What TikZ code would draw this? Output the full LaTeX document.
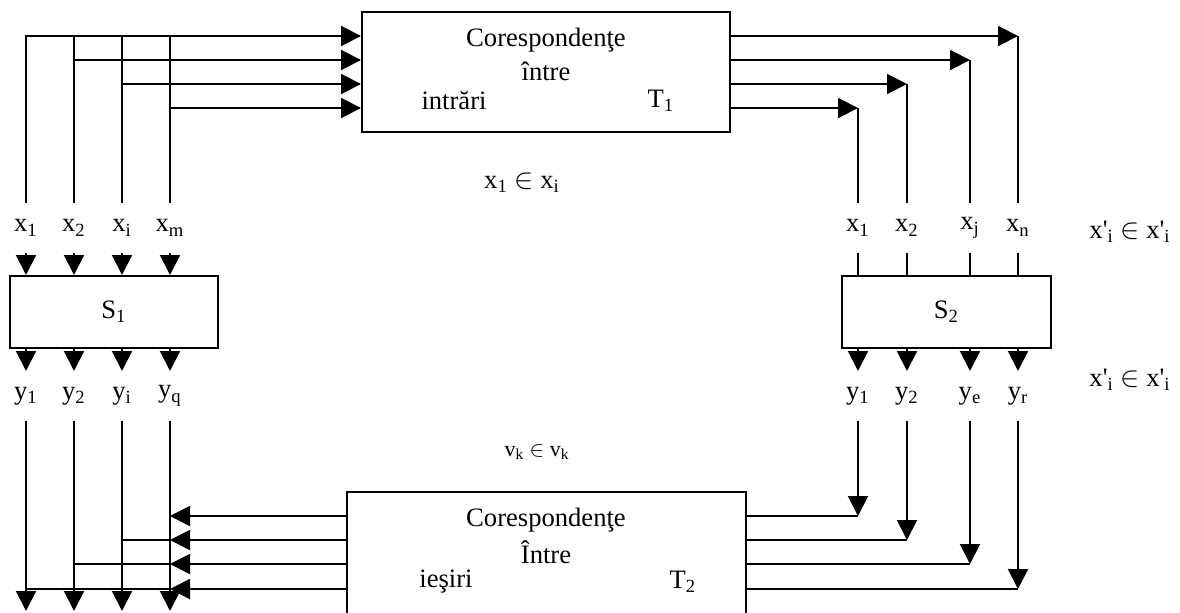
\documentclass[tikz,border=0pt]{standalone}
\usepackage{fontspec}
\setmainfont{Liberation Serif}
\usetikzlibrary{arrows.meta}
\tikzset{
    box/.style ={
        rectangle,
        minimum width =104pt,
        minimum height =36pt,
        inner sep=0pt,
        draw=black
    },
    lbl/.style ={inner sep=0pt, minimum height=24pt},
    arr/.style ={-{Triangle[length=10pt,width=10pt]}}
}
\begin{document}
\begin{tikzpicture}[x=0.5pt,y=-0.5pt,line width=1pt,font=\fontsize{13.3}{16}\selectfont]
        \useasboundingbox (0,0) rectangle (1180,612);
        \clip (0,0) rectangle (1180,612);
        % boxes
        \node[box,minimum width=184pt,minimum height=60pt] (T1) at (546,72) {};
        \node[box,minimum width=199.5pt,minimum height=70pt] (T2) at (546.5,562) {};
        \node[box] (S1) at (114,312) {S\textsubscript{1}};
        \node[box,minimum width=104.5pt] (S2) at (946.5,312) {S\textsubscript{2}};
        \node (T1A) at (546,40) {Corespondenţe};
        \node (T1B) at (546,71) {între};
        \node (T1C) at (454,101) {intrări};
        \node (T1D) at (661,101) {T\textsubscript{1}};
        \node (T2A) at (546,520) {Corespondenţe};
        \node (T2B) at (546,552) {Între};
        \node (T2C) at (446,582) {ieşiri};
        \node (T2D) at (683,582) {T\textsubscript{2}};
        % rows of the connectors
        \coordinate (R1) at (0,36);
        \coordinate (R2) at (0,60);
        \coordinate (R3) at (0,84);
        \coordinate (R4) at (0,108);
        \coordinate (Q1) at (0,516);
        \coordinate (Q2) at (0,540);
        \coordinate (Q3) at (0,564);
        \coordinate (Q4) at (0,589);
        \coordinate (BOT) at (0,611);
        % labels
        \node[lbl] (XA1) at (26,228) {x\textsubscript{1}};
        \node[lbl] (XA2) at (74,228) {x\textsubscript{2}};
        \node[lbl] (XA3) at (122,228) {x\textsubscript{i}};
        \node[lbl] (XA4) at (170,228) {x\textsubscript{m}};
        \node[lbl] (YA1) at (26,396) {y\textsubscript{1}};
        \node[lbl] (YA2) at (74,396) {y\textsubscript{2}};
        \node[lbl] (YA3) at (122,396) {y\textsubscript{i}};
        \node[lbl] (YA4) at (170,396) {y\textsubscript{q}};
        \node[lbl] (XB1) at (858,228) {x\textsubscript{1}};
        \node[lbl] (XB2) at (907,228) {x\textsubscript{2}};
        \node[lbl] (XB3) at (970,228) {x\textsubscript{j}};
        \node[lbl] (XB4) at (1018,228) {x\textsubscript{n}};
        \node[lbl] (YB1) at (858,396) {y\textsubscript{1}};
        \node[lbl] (YB2) at (907,396) {y\textsubscript{2}};
        \node[lbl] (YB3) at (970,396) {y\textsubscript{e}};
        \node[lbl] (YB4) at (1018,396) {y\textsubscript{r}};
        \node (EQ1) at (522,183) {x\textsubscript{1} $\in$ x\textsubscript{i}};
        \node (EQ2) at (1130,232) {x\textquotesingle\textsubscript{i} $\in$ x\textquotesingle\textsubscript{i}};
        \node (EQ3) at (1130,380) {x\textquotesingle\textsubscript{i} $\in$ x\textquotesingle\textsubscript{i}};
        \node[font=\fontsize{11}{13}\selectfont] (EQ4) at (537,452) {v\textsubscript{k} $\in$ v\textsubscript{k}};
        % into T1
        \draw[arr] (XA1.north) |- (T1.west |- R1);
        \draw (XA2.north) -- (XA2 |- R1);
        \draw (XA3.north) -- (XA3 |- R1);
        \draw (XA4.north) -- (XA4 |- R1);
        \draw[arr] (XA2 |- R2) -- (T1.west |- R2);
        \draw[arr] (XA3 |- R3) -- (T1.west |- R3);
        \draw[arr] (XA4 |- R4) -- (T1.west |- R4);
        % out of T1
        \draw[arr] (T1.east |- R1) -- (XB4 |- R1);
        \draw[arr] (T1.east |- R2) -- (XB3 |- R2);
        \draw[arr] (T1.east |- R3) -- (XB2 |- R3);
        \draw[arr] (T1.east |- R4) -- (XB1 |- R4);
        \draw (XB4 |- R1) -- (XB4.north);
        \draw (XB3 |- R2) -- (XB3.north);
        \draw (XB2 |- R3) -- (XB2.north);
        \draw (XB1 |- R4) -- (XB1.north);
        % S1
        \draw[arr] (XA1.south) -- (XA1 |- S1.north);
        \draw[arr] (XA2.south) -- (XA2 |- S1.north);
        \draw[arr] (XA3.south) -- (XA3 |- S1.north);
        \draw[arr] (XA4.south) -- (XA4 |- S1.north);
        \draw[arr] (YA1 |- S1.south) -- (YA1.north);
        \draw[arr] (YA2 |- S1.south) -- (YA2.north);
        \draw[arr] (YA3 |- S1.south) -- (YA3.north);
        \draw[arr] (YA4 |- S1.south) -- (YA4.north);
        % S2
        \draw (XB1.south) -- (XB1 |- S2.north);
        \draw (XB2.south) -- (XB2 |- S2.north);
        \draw (XB3.south) -- (XB3 |- S2.north);
        \draw (XB4.south) -- (XB4 |- S2.north);
        \draw[arr] (YB1 |- S2.south) -- (YB1.north);
        \draw[arr] (YB2 |- S2.south) -- (YB2.north);
        \draw[arr] (YB3 |- S2.south) -- (YB3.north);
        \draw[arr] (YB4 |- S2.south) -- (YB4.north);
        % into T2
        \draw[arr] (YB1.south) -- (YB1 |- Q1);
        \draw[arr] (YB2.south) -- (YB2 |- Q2);
        \draw[arr] (YB3.south) -- (YB3 |- Q3);
        \draw[arr] (YB4.south) -- (YB4 |- Q4);
        \draw (YB1 |- Q1) -- (T2.east |- Q1);
        \draw (YB2 |- Q2) -- (T2.east |- Q2);
        \draw (YB3 |- Q3) -- (T2.east |- Q3);
        \draw (YB4 |- Q4) -- (T2.east |- Q4);
        % out of T2
        \draw[arr] (T2.west |- Q1) -- (YA4 |- Q1);
        \draw[arr] (T2.west |- Q2) -- (YA4 |- Q2);
        \draw[arr] (T2.west |- Q3) -- (YA4 |- Q3);
        \draw[arr] (T2.west |- Q4) -- (YA4 |- Q4);
        \draw (YA4 |- Q2) -- (YA3 |- Q2);
        \draw (YA4 |- Q3) -- (YA2 |- Q3);
        \draw (YA4 |- Q4) -- (YA1 |- Q4);
        \draw[arr] (YA1.south) -- (YA1 |- BOT);
        \draw[arr] (YA2.south) -- (YA2 |- BOT);
        \draw[arr] (YA3.south) -- (YA3 |- BOT);
        \draw[arr] (YA4.south) -- (YA4 |- BOT);
    \end{tikzpicture}
\end{document}
